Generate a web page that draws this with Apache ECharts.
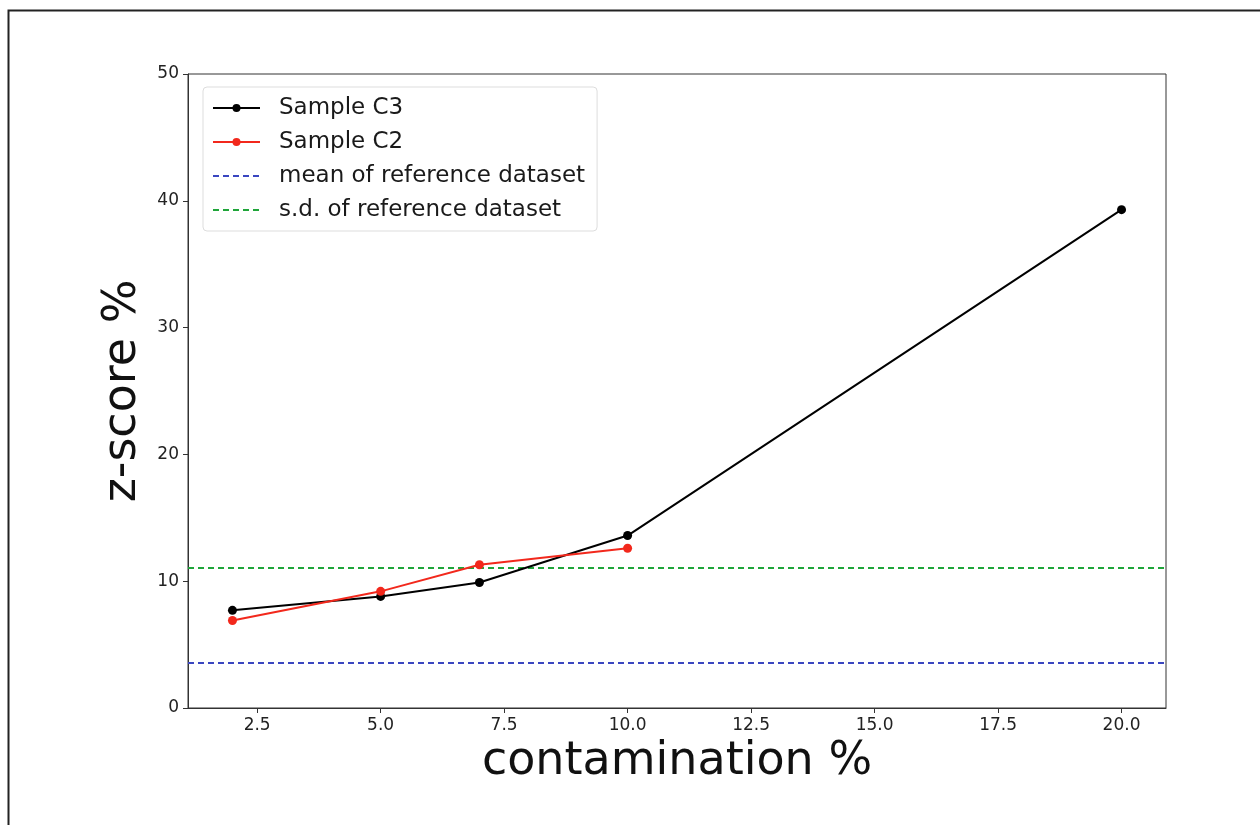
<!DOCTYPE html>
<html>
<head>
<meta charset="utf-8">
<script src="https://cdn.jsdelivr.net/npm/echarts@6/dist/echarts.min.js"></script>
<style>
  html, body { margin: 0; padding: 0; background: #fff; }
  #chart { width: 1260px; height: 825px; }
</style>
</head>
<body>
<div id="chart"></div>
<script>
// 污染比例 (x)
const contamC3 = [2, 5, 7, 10, 20];
const contamC2 = [2, 5, 7, 10];
// z-score 值
const zC3 = [7.7, 8.8, 9.9, 13.6, 39.3];
const zC2 = [6.9, 9.2, 11.3, 12.6];
// 参考数据集的均值 / 标准差 (水平线)
const refMean = 3.55;
const refSd = 11.05;
const xExtent = [1.1, 20.9];
// 刻度
const xTicks = [2.5, 5.0, 7.5, 10.0, 12.5, 15.0, 17.5, 20.0];

const font = 'DejaVu Sans';
const axisColor = '#333';

function pairs(xs, ys) {
    return xs.map((x, i) => [x, ys[i]]);
}

const chart = echarts.init(document.getElementById('chart'));

const option = {
    animation: false,
    backgroundColor: '#fff',
    textStyle: { fontFamily: font },
    graphic: [{
        type: 'rect',
        shape: { x: 8.5, y: 10.5, width: 1400, height: 1000 },
        style: { fill: 'none', stroke: '#222', lineWidth: 2 },
        silent: true
    }],
    grid: {
        left: 188, right: 94, top: 74, bottom: 117,
        show: true, borderColor: axisColor, borderWidth: 1
    },
    legend: {
        left: 203, top: 87,
        orient: 'vertical',
        itemWidth: 47, itemHeight: 10,
        itemGap: 8,
        padding: [8, 12, 8, 9],
        borderColor: '#ddd', borderWidth: 1, borderRadius: 4,
        backgroundColor: 'rgba(255,255,255,0.8)',
        textStyle: { fontFamily: font, fontSize: 23, color: '#1a1a1a', lineHeight: 26, padding: [0, 0, 0, 14] },
        data: [
            'Sample C3',
            'Sample C2',
            // 虚线图例不要圆点
            { name: 'mean of reference dataset', itemStyle: { opacity: 0 } },
            { name: 's.d. of reference dataset', itemStyle: { opacity: 0 } }
        ]
    },
    xAxis: {
        type: 'value',
        min: xExtent[0], max: xExtent[1],
        name: 'contamination %',
        nameLocation: 'middle',
        nameGap: 26,
        nameTextStyle: { fontFamily: font, fontSize: 46, color: '#111' },
        axisLine: { show: true, lineStyle: { color: axisColor } },
        axisTick: { show: true, length: 5, customValues: xTicks, lineStyle: { color: axisColor } },
        axisLabel: {
            customValues: xTicks,
            fontFamily: font, fontSize: 17, color: '#222', margin: 9,
            formatter: v => Number(v).toFixed(1)
        },
        splitLine: { show: false }
    },
    yAxis: {
        type: 'value',
        min: 0, max: 50, interval: 10,
        name: 'z-score %',
        nameLocation: 'middle',
        nameGap: 33,
        nameRotate: 90,
        nameTextStyle: { fontFamily: font, fontSize: 46, color: '#111' },
        axisLine: { show: true, lineStyle: { color: axisColor } },
        axisTick: { show: true, length: 5, lineStyle: { color: axisColor } },
        axisLabel: { fontFamily: font, fontSize: 17, color: '#222', margin: 9 },
        splitLine: { show: false }
    },
    series: [
        {
            name: 'Sample C3', type: 'line',
            data: pairs(contamC3, zC3),
            symbol: 'circle', symbolSize: 9,
            lineStyle: { color: '#000', width: 2 },
            itemStyle: { color: '#000' },
            z: 3
        },
        {
            name: 'Sample C2', type: 'line',
            data: pairs(contamC2, zC2),
            symbol: 'circle', symbolSize: 9,
            lineStyle: { color: '#f2281c', width: 2 },
            itemStyle: { color: '#f2281c' },
            z: 4
        },
        {
            name: 'mean of reference dataset', type: 'line',
            data: pairs(xExtent, [refMean, refMean]),
            symbol: 'none',
            lineStyle: { color: '#3a46c0', width: 2, type: [6, 4] },
            itemStyle: { color: '#3a46c0' },
            z: 2
        },
        {
            name: 's.d. of reference dataset', type: 'line',
            data: pairs(xExtent, [refSd, refSd]),
            symbol: 'none',
            lineStyle: { color: '#1fa53a', width: 2, type: [6, 4] },
            itemStyle: { color: '#1fa53a' },
            z: 2
        }
    ]
};

chart.setOption(option);
</script>
</body>
</html>
